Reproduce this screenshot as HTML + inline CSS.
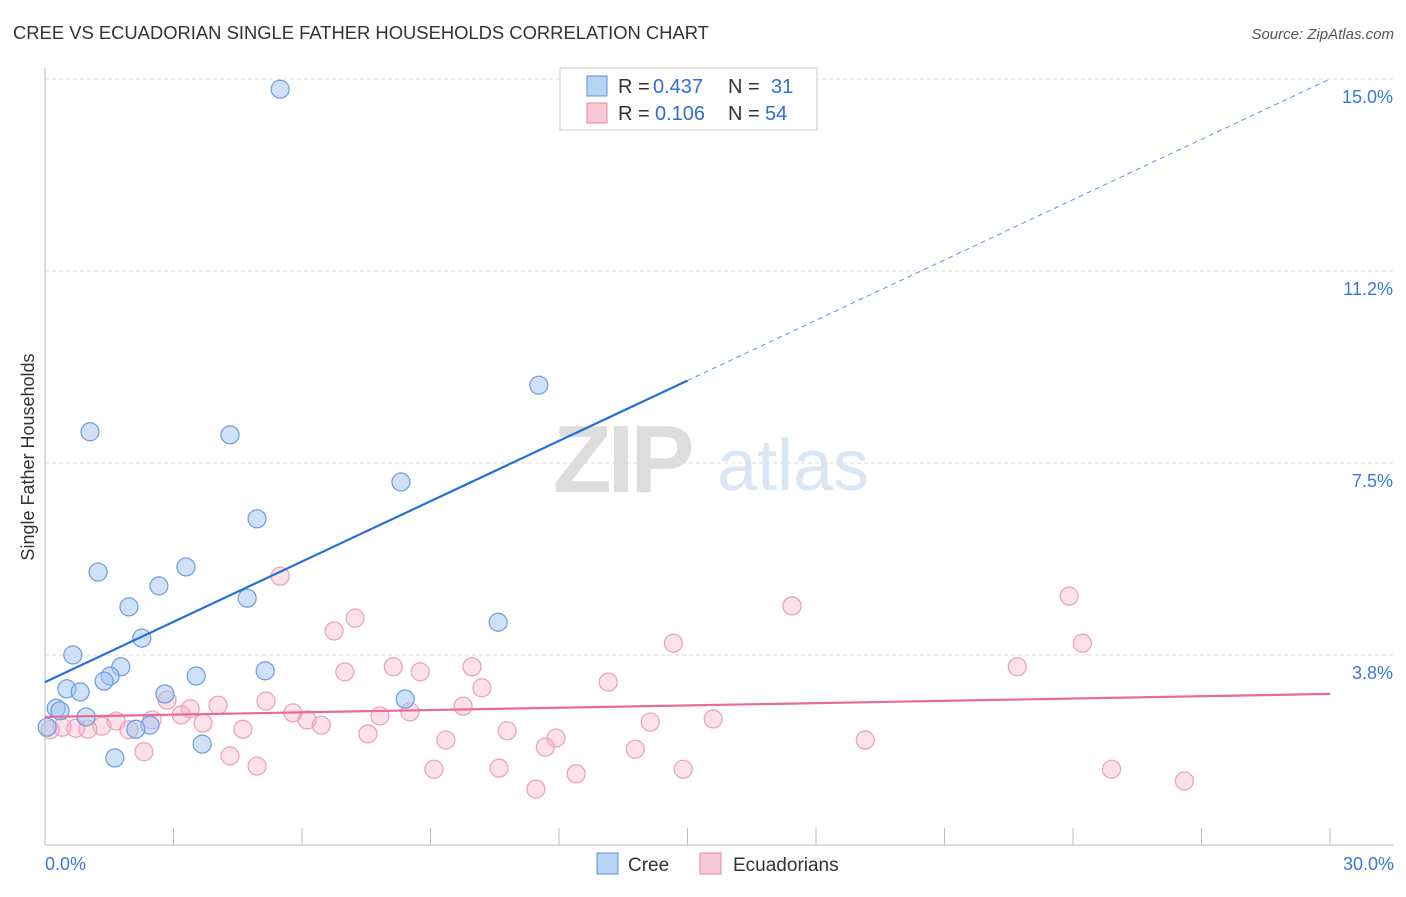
<!DOCTYPE html>
<html><head><meta charset="utf-8"><style>
body{margin:0;background:#fff;font-family:"Liberation Sans",sans-serif}
svg text{font-family:"Liberation Sans",sans-serif}
</style></head><body>
<svg id="chart" width="1406" height="892" viewBox="0 0 1406 892" xmlns="http://www.w3.org/2000/svg">
<text x="13" y="39" font-size="18.4" fill="#333">CREE VS ECUADORIAN SINGLE FATHER HOUSEHOLDS CORRELATION CHART</text>
<text x="1394" y="39" font-size="15" fill="#555" text-anchor="end" font-style="italic">Source: ZipAtlas.com</text>
<text x="553" y="492" font-size="96" fill="#ddd" font-family="Liberation Serif" font-weight="bold" letter-spacing="-4">ZIP</text>
<text x="717" y="490" font-size="72" fill="#dbe6f5">atlas</text>
<g id="grid"></g>
<g id="axes"></g>
<g id="points"></g>
<g id="trends"></g>
<text transform="translate(34,457) rotate(-90)" font-size="18" fill="#333" text-anchor="middle">Single Father Households</text>
<g>
<rect x="560" y="68" width="257" height="62" fill="#fff" stroke="#ccc"/>
<rect x="587" y="76" width="20" height="20" fill="#b8d4f5" stroke="#5a8fd6"/>
<text x="618" y="93" font-size="20" fill="#333">R =</text>
<text x="653" y="93" font-size="20" fill="#2d6fd6">0.437</text>
<text x="728" y="93" font-size="20" fill="#333">N =</text>
<text x="771" y="93" font-size="20" fill="#2d6fd6">31</text>
<rect x="587" y="103" width="20" height="20" fill="#f9c8d6" stroke="#e58aa6"/>
<text x="618" y="120" font-size="20" fill="#333">R =</text>
<text x="655" y="120" font-size="20" fill="#2d6fd6">0.106</text>
<text x="728" y="120" font-size="20" fill="#333">N =</text>
<text x="765" y="120" font-size="20" fill="#2d6fd6">54</text>
</g>
<g>
<rect x="597" y="853" width="21" height="21" fill="#b8d4f5" stroke="#5a8fd6"/>
<text x="628" y="871" font-size="19" fill="#333">Cree</text>
<rect x="700" y="853" width="21" height="21" fill="#f9c8d6" stroke="#e58aa6"/>
<text x="733" y="871" font-size="19" fill="#333">Ecuadorians</text>
</g>
</svg>
<script>
const creeX=[5.49,11.53,1.05,4.32,8.31,4.95,1.24,3.29,2.66,1.96,4.72,10.58,2.26,0.65,1.77,5.14,1.52,1.38,3.53,0.51,0.82,2.80,8.41,0.26,0.35,0.96,2.45,2.12,0.05,3.67,1.63];
const creeY=[14.80,9.02,8.11,8.05,7.13,6.41,5.37,5.47,5.10,4.69,4.86,4.39,4.08,3.75,3.52,3.44,3.34,3.24,3.34,3.09,3.03,2.99,2.89,2.71,2.66,2.54,2.38,2.30,2.34,2.01,1.74];
const ecuX=[5.49,7.24,6.75,17.44,23.91,24.22,14.67,7.00,8.13,8.76,9.97,22.70,13.15,10.20,2.85,5.16,4.04,3.39,9.76,3.18,5.79,2.50,8.52,7.82,1.66,6.12,15.60,14.13,3.69,6.45,1.33,1.00,0.72,0.40,0.12,4.62,1.96,7.54,10.79,9.36,11.93,19.15,11.68,13.78,2.31,4.32,4.95,9.08,10.60,14.90,24.90,12.40,26.60,11.46];
const ecuY=[5.29,4.47,4.22,4.71,4.90,3.98,3.98,3.42,3.52,3.42,3.52,3.52,3.22,3.11,2.87,2.85,2.77,2.70,2.75,2.58,2.62,2.48,2.64,2.56,2.46,2.48,2.50,2.44,2.42,2.38,2.36,2.30,2.32,2.34,2.29,2.30,2.29,2.21,2.27,2.09,2.13,2.09,1.95,1.91,1.86,1.78,1.58,1.52,1.54,1.52,1.52,1.43,1.29,1.13];
const yTicks=[15.0,11.25,7.5,3.75];
const yTickLabels=["15.0%","11.2%","7.5%","3.8%"];
const xTicks=[0,3,6,9,12,15,18,21,24,27,30];
const creeTrend=[3.22,15.0];
const ecuTrend=[2.54,2.99];
const creeSolidEnd=15;
const NS="http://www.w3.org/2000/svg";
const sx=v=>45+v*1285/30;
const sy=v=>847-v*51.2;
function mk(p,tag,a){const e=document.createElementNS(NS,tag);for(const k in a)e.setAttribute(k,a[k]);p.appendChild(e);return e;}
const grid=document.getElementById('grid'),axes=document.getElementById('axes'),pts=document.getElementById('points'),tr=document.getElementById('trends');
yTicks.forEach((t,i)=>{
 const l=mk(grid,'line',{x1:45,x2:1394,y1:sy(t),y2:sy(t),stroke:'#ddd','stroke-dasharray':'4,3'});
 
 
 const tx=mk(grid,'text',{x:1393,y:sy(t)+24,'font-size':18,fill:'#3a78d8','text-anchor':'end'});
 tx.textContent=yTickLabels[i];
 
 
});
let a=mk(axes,'line',{x1:45,x2:45,y1:68,y2:845,stroke:'#bbb'});


a=mk(axes,'line',{x1:45,x2:1394,y1:845,y2:845,stroke:'#bbb'});


xTicks.forEach(t=>{
 const l=mk(axes,'line',{x1:sx(t),x2:sx(t),y1:828,y2:845,stroke:'#bbb'});
 
 
});
let t0=mk(axes,'text',{x:45,y:870,'font-size':18,fill:'#3a78d8'});t0.textContent='0.0%';


let t1=mk(axes,'text',{x:1394,y:870,'font-size':18,fill:'#3a78d8','text-anchor':'end'});t1.textContent='30.0%';


ecuX.forEach((x,i)=>{
 const c=mk(pts,'circle',{cx:sx(x),cy:sy(ecuY[i]),r:9,fill:'rgba(246,170,195,0.35)',stroke:'#eaa0b8','stroke-width':1.2});
 
 
});
creeX.forEach((x,i)=>{
 const c=mk(pts,'circle',{cx:sx(x),cy:sy(creeY[i]),r:9,fill:'rgba(160,196,240,0.5)',stroke:'#6a9be0','stroke-width':1.2});
 
 
});
const cy=x=>creeTrend[0]+(creeTrend[1]-creeTrend[0])*x/30;
let l=mk(tr,'line',{x1:sx(0),y1:sy(cy(0)),x2:sx(creeSolidEnd),y2:sy(cy(creeSolidEnd)),stroke:'#2370d8','stroke-width':2.2});


l=mk(tr,'line',{x1:sx(creeSolidEnd),y1:sy(cy(creeSolidEnd)),x2:sx(30),y2:sy(cy(30)),stroke:'#5a95e0','stroke-width':1,'stroke-dasharray':'5,4'});


l=mk(tr,'line',{x1:sx(0),y1:sy(ecuTrend[0]),x2:sx(30),y2:sy(ecuTrend[1]),stroke:'#e8699a','stroke-width':2.2});


</script>
</body></html>
